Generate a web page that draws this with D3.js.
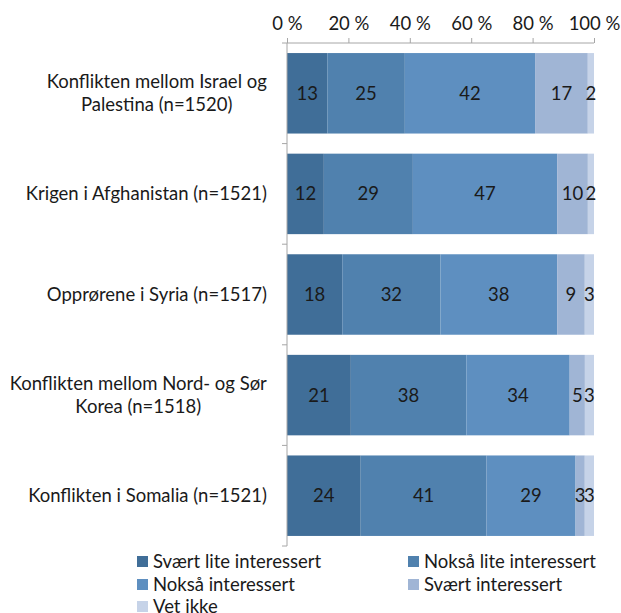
<!DOCTYPE html>
<html><head><meta charset="utf-8">
<script src="https://cdn.jsdelivr.net/npm/d3@7"></script>
<style>body{margin:0;background:#fff}svg{display:block}text{font-family:Lato,"Open Sans",sans-serif}</style>
</head><body><svg id="c" width="621" height="613"></svg>
<script>
const categories = [
  ["Konflikten mellom Israel og", "Palestina (n=1520)"],
  ["Krigen i Afghanistan (n=1521)"],
  ["Opprørene i Syria (n=1517)"],
  ["Konflikten mellom Nord- og Sør", "Korea (n=1518)"],
  ["Konflikten i Somalia (n=1521)"]
];
const seriesNames = ["Svært lite interessert","Nokså lite interessert","Nokså interessert","Svært interessert","Vet ikke"];
const svaertLite = [13,12,18,21,24];
const noksaLite = [25,29,32,38,41];
const noksa = [42,47,38,34,29];
const svaert = [17,10,9,5,3];
const vetIkke = [2,2,3,3,3];
const tickValues = [0,20,40,60,80,100];
const tickLabels = ["0 %","20 %","40 %","60 %","80 %","100 %"];
const colors = ["#406e98","#5081ae","#5e8fc0","#a0b5d5","#c6d3e8"];
const FS = 18.5;

const svg = d3.select("#c");
const series = [svaertLite, noksaLite, noksa, svaert, vetIkke];
const x = d3.scaleLinear().domain([0,100]).range([287,594]);
const y = d3.scaleBand().domain(d3.range(categories.length)).range([43,546]).paddingInner(0.2).paddingOuter(0.1);

const rows = categories.map((c,i)=>{
  const vals = series.map(s=>s[i]);
  const tot = d3.sum(vals);
  let acc = 0;
  return vals.map((v,k)=>{const s0=acc/tot*100; acc+=v; return {k, v, x0:s0, x1:acc/tot*100, i};});
});

const g = svg.append("g");
rows.forEach(r=>{
  g.selectAll(null).data(r).enter().append("rect")
    .attr("x",d=>x(d.x0)).attr("width",d=>x(d.x1)-x(d.x0))
    .attr("y",d=>y(d.i)).attr("height",y.bandwidth())
    .attr("fill",d=>colors[d.k]);
  g.selectAll(null).data(r).enter().append("text")
    .attr("x",d=>(x(d.x0)+x(d.x1))/2).attr("y",d=>y(d.i)+y.bandwidth()/2)
    .attr("dy","0.35em").attr("text-anchor","middle")
    .attr("font-size",FS).attr("fill","#1a1a1a").text(d=>d.v);
});

const axisTop = d3.axisTop(x).tickValues(tickValues).tickFormat((d,i)=>tickLabels[i]).tickSize(5).tickPadding(8);
const ax = svg.append("g").attr("transform","translate(0,43)").call(axisTop);
ax.select(".domain").attr("stroke","#a6a6a6").attr("d","M287,0H594");
ax.selectAll(".tick line").attr("stroke","#a6a6a6");
ax.selectAll(".tick text").attr("font-size",FS).attr("fill","#1a1a1a").attr("font-family","Lato, sans-serif");

const left = svg.append("g");
left.append("line").attr("x1",287).attr("x2",287).attr("y1",43).attr("y2",546).attr("stroke","#a6a6a6");
const step = (546-43)/categories.length;
d3.range(categories.length+1).forEach(j=>{
  left.append("line").attr("x1",282).attr("x2",287).attr("y1",43+j*step).attr("y2",43+j*step).attr("stroke","#a6a6a6");
});

categories.forEach((lines,i)=>{
  const cy = y(i)+y.bandwidth()/2;
  const t = svg.append("text").attr("font-size",FS).attr("fill","#1a1a1a");
  if(lines.length===1){
    t.attr("x",267).attr("y",cy).attr("dy","0.35em").attr("text-anchor","end").text(lines[0]);
  } else {
    const lh = 23;
    lines.forEach((l,k)=>{
      t.append("tspan").attr("x",0).attr("y",cy+(k-(lines.length-1)/2)*lh).attr("dy","0.35em").attr("text-anchor","middle").text(l);
    });
    const w = t.node().getBBox().width;
    t.selectAll("tspan").attr("x",267-w/2);
  }
});

const legPos = [[137,562],[408,562],[137,585],[408,585],[137,607]];
seriesNames.forEach((n,k)=>{
  const [lx,ly]=legPos[k];
  svg.append("rect").attr("x",lx).attr("y",ly-6).attr("width",11).attr("height",11).attr("fill",colors[k]);
  svg.append("text").attr("x",lx+16).attr("y",ly).attr("dy","0.35em").attr("font-size",FS).attr("fill","#1a1a1a").text(n);
});
</script></body></html>
